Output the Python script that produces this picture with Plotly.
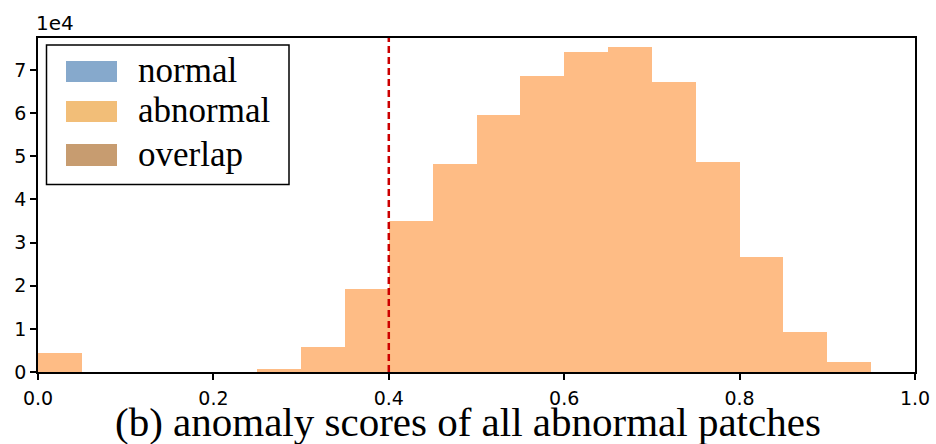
import plotly.graph_objects as go

# ---- data (counts in units of 1e4) ----
bin_left = [0.00, 0.05, 0.10, 0.15, 0.20, 0.25, 0.30, 0.35, 0.40, 0.45,
            0.50, 0.55, 0.60, 0.65, 0.70, 0.75, 0.80, 0.85, 0.90, 0.95]
abnormal_counts = [0.44, 0.0, 0.0, 0.0, 0.0, 0.07, 0.58, 1.93, 3.49, 4.82,
                   5.96, 6.86, 7.41, 7.52, 6.71, 4.86, 2.67, 0.93, 0.23, 0.0]
bin_width = 0.05
threshold = 0.4
legend_labels = ["normal", "abnormal", "overlap"]
legend_colors = ["#86A9CC", "#F2BE78", "#C79C70"]
x_ticks = [0.0, 0.2, 0.4, 0.6, 0.8, 1.0]
x_tick_labels = ["0.0", "0.2", "0.4", "0.6", "0.8", "1.0"]
y_ticks = [0, 1, 2, 3, 4, 5, 6, 7]
caption = "(b) anomaly scores of all abnormal patches"

W, H = 936, 444
L, R, T, B = 38, 21, 38, 72

centers = [b + bin_width / 2 for b in bin_left]

fig = go.Figure()
fig.add_trace(go.Bar(x=centers, y=abnormal_counts, width=[bin_width] * len(centers),
                     marker=dict(color="#FEBC85", line=dict(width=0)),
                     showlegend=False, hoverinfo="skip"))

fig.add_shape(type="line", xref="x", yref="paper", x0=threshold, x1=threshold, y0=0, y1=1,
              line=dict(color="#CC0000", width=2.5, dash="7px,4px"))

pw = W - L - R
ph = H - T - B
def px(xp):
    return (xp - L) / pw
def py(yp):
    return 1 - (yp - T) / ph

# legend box
fig.add_shape(type="rect", xref="paper", yref="paper",
              x0=px(46.5), x1=px(289), y0=py(184.5), y1=py(45),
              line=dict(color="black", width=1.5), fillcolor="white", layer="above")
sw_y = [(61, 82), (101, 122), (144, 166)]
for (y0, y1), lab, col in zip(sw_y, legend_labels, legend_colors):
    fig.add_shape(type="rect", xref="paper", yref="paper",
                  x0=px(66), x1=px(117), y0=py(y1), y1=py(y0),
                  line=dict(width=0), fillcolor=col, layer="above")
    fig.add_annotation(xref="paper", yref="paper", x=px(136), y=py((y0 + y1) / 2 - 1),
                       text=lab, showarrow=False, xanchor="left", yanchor="middle",
                       font=dict(family="Liberation Serif", size=35, color="black"))

fig.add_annotation(xref="paper", yref="paper", x=px(34), y=py(23), text="1e4",
                   showarrow=False, xanchor="left", yanchor="middle",
                   font=dict(family="DejaVu Sans", size=20, color="black"))
fig.add_annotation(xref="paper", yref="paper", x=px(468), y=py(422), text=caption,
                   showarrow=False, xanchor="center", yanchor="middle",
                   font=dict(family="Liberation Serif", size=41, color="black"))

fig.update_layout(
    width=W, height=H, margin=dict(l=L, r=R, t=T, b=B, autoexpand=False),
    plot_bgcolor="white", paper_bgcolor="white", bargap=0,
    xaxis=dict(range=[0, 1], tickvals=x_ticks, ticktext=x_tick_labels, automargin=False,
               showgrid=False, zeroline=False, showline=True, mirror=True,
               linecolor="black", linewidth=1.5, ticks="outside", ticklen=6,
               tickcolor="black", tickwidth=1.5, ticklabelstandoff=2,
               tickfont=dict(family="DejaVu Sans", size=19, color="black")),
    yaxis=dict(range=[0, 7.74], tickvals=y_ticks, automargin=False,
               showgrid=False, zeroline=False, showline=True, mirror=True,
               linecolor="black", linewidth=1.5, ticks="outside", ticklen=6,
               tickcolor="black", tickwidth=1.5,
               tickfont=dict(family="DejaVu Sans", size=19, color="black")),
)

fig.write_html("out.html", config={"displayModeBar": False},
               post_script="document.body.style.margin='0';")
